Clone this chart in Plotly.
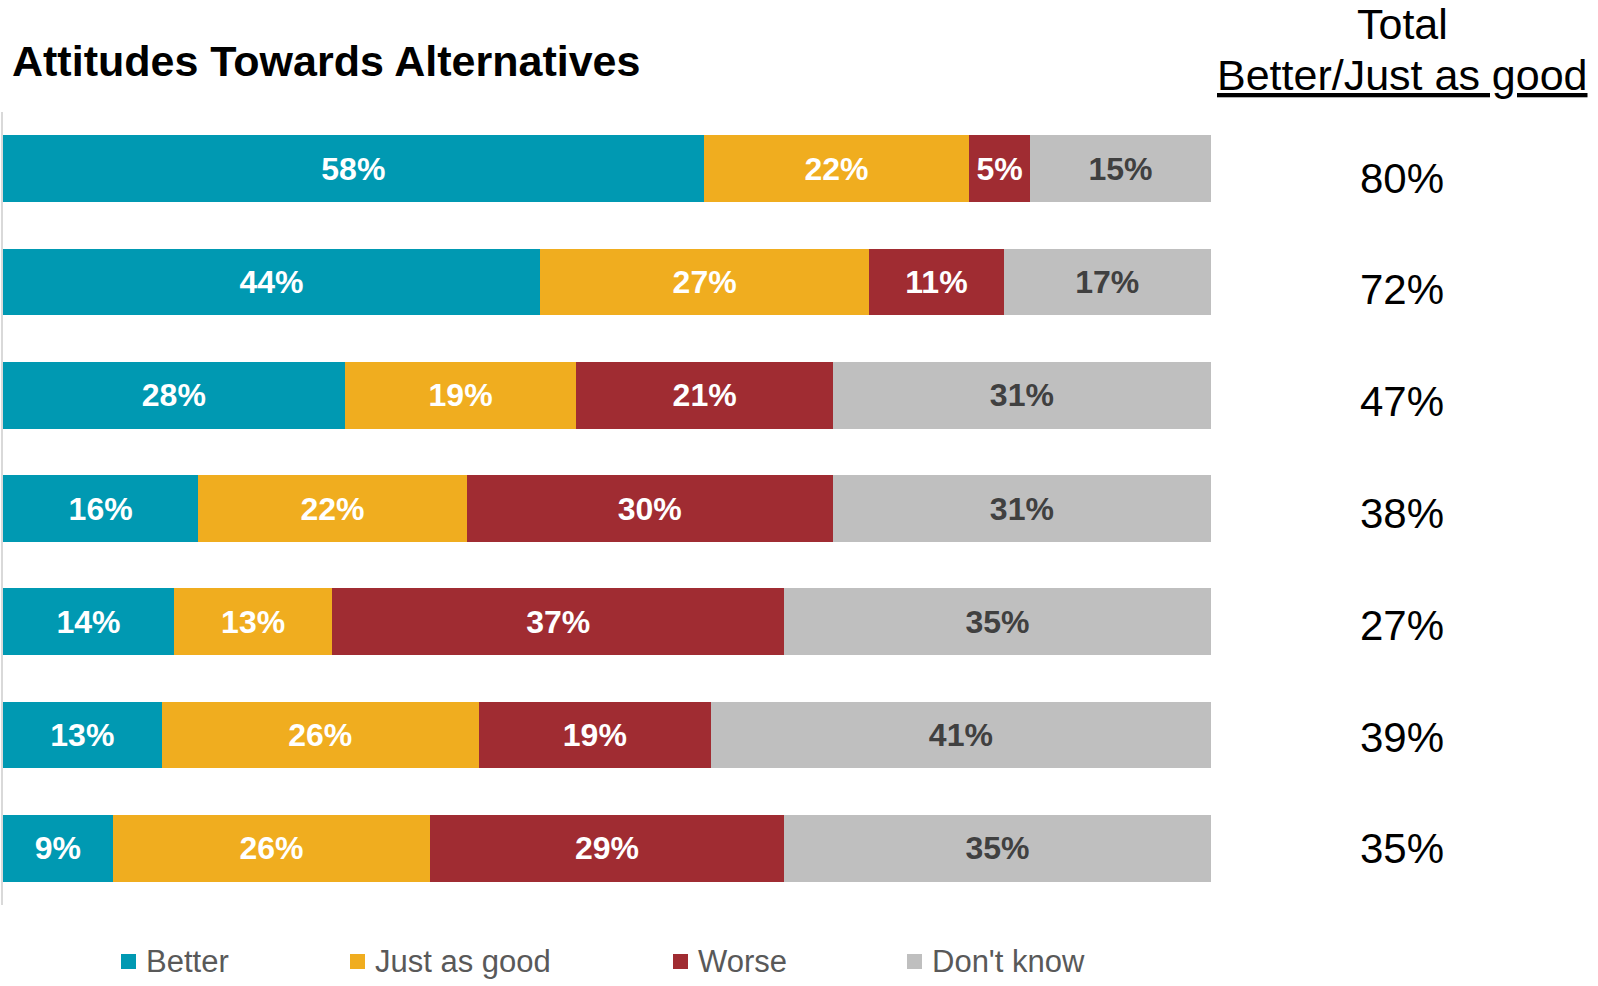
import plotly.graph_objects as go

# Survey rows, top to bottom (row labels are not shown on the chart)
rows = ["Item 1", "Item 2", "Item 3", "Item 4", "Item 5", "Item 6", "Item 7"]

better = [58, 44, 28, 16, 14, 13, 9]
just_as_good = [22, 27, 19, 22, 13, 26, 26]
worse = [5, 11, 21, 30, 37, 19, 29]
dont_know = [15, 17, 31, 31, 35, 41, 35]

# Combined "Better / Just as good" share per row
total_better_good = [80, 72, 47, 38, 27, 39, 35]

series_names = ["Better", "Just as good", "Worse", "Don't know"]
series_values = [better, just_as_good, worse, dont_know]
series_colors = ["#0099B2", "#F0AD1F", "#A02C32", "#BFBFBF"]
label_colors = ["#FFFFFF", "#FFFFFF", "#FFFFFF", "#404040"]

FONT = "Liberation Sans, Arial, Helvetica, sans-serif"

W, H = 1598, 986
PL, PR, PT, PB = 3, 1211, 112, 905  # plot area in pixels


def px_x(x):
    return (x - PL) / (PR - PL)


def px_y(y):
    return (PB - y) / (PB - PT)


fig = go.Figure()
for name, vals, col, tcol in zip(series_names, series_values, series_colors, label_colors):
    fig.add_trace(go.Bar(
        y=rows,
        x=vals,
        name=name,
        orientation="h",
        marker=dict(color=col, line=dict(width=0)),
        text=[f"{v}%" for v in vals],
        textposition="inside",
        insidetextanchor="middle",
        textangle=0,
        textfont=dict(family=FONT, size=32, color=tcol, weight="bold"),
        showlegend=False,
        hoverinfo="skip",
    ))

annotations = []

# Right-hand column: header and totals
annotations.append(dict(
    text="Total", xref="paper", yref="paper", x=px_x(1402), y=px_y(24),
    xanchor="center", yanchor="middle", showarrow=False,
    font=dict(family=FONT, size=43, color="#000000"),
))
annotations.append(dict(
    text='<span style="text-decoration:underline">Better/Just as good</span>',
    xref="paper", yref="paper", x=px_x(1402), y=px_y(75),
    xanchor="center", yanchor="middle", showarrow=False,
    font=dict(family=FONT, size=43, color="#000000"),
))
# Totals column sits on its own slightly tighter row spacing
TOTAL_TOP, TOTAL_STEP = 178, 111.8
for i, t in enumerate(total_better_good):
    annotations.append(dict(
        text=f"{t}%", xref="paper", yref="paper",
        x=px_x(1402), y=px_y(TOTAL_TOP + i * TOTAL_STEP),
        xanchor="center", yanchor="middle", showarrow=False,
        font=dict(family=FONT, size=42, color="#000000"),
    ))

# Legend drawn beneath the bars
shapes = []
legend_marker_x = [121, 350, 673, 907]
for name, col, mx in zip(series_names, series_colors, legend_marker_x):
    shapes.append(dict(
        type="rect", xref="paper", yref="paper",
        x0=px_x(mx), x1=px_x(mx + 15), y0=px_y(969), y1=px_y(954),
        fillcolor=col, line=dict(width=0),
    ))
    annotations.append(dict(
        text=name, xref="paper", yref="paper", x=px_x(mx + 23), y=px_y(961),
        xanchor="left", yanchor="middle", showarrow=False,
        font=dict(family=FONT, size=31, color="#595959"),
    ))

fig.update_layout(
    width=W, height=H,
    margin=dict(l=PL, r=W - PR, t=PT, b=H - PB, pad=0),
    barmode="stack",
    barnorm="percent",
    bargap=0.41,
    plot_bgcolor="#FFFFFF",
    paper_bgcolor="#FFFFFF",
    title=dict(
        text="<b>Attitudes Towards Alternatives</b>",
        xref="container", yref="container",
        x=12 / W, y=1 - 61 / H, xanchor="left", yanchor="middle",
        font=dict(family=FONT, size=43, color="#000000"),
    ),
    xaxis=dict(range=[0, 100], visible=False, fixedrange=True),
    yaxis=dict(
        type="category", categoryorder="array", categoryarray=rows,
        range=[6.5, -0.5], showticklabels=False, ticks="",
        showgrid=False, zeroline=False,
        showline=True, linecolor="#D9D9D9", linewidth=2, fixedrange=True,
    ),
    annotations=annotations,
    shapes=shapes,
    showlegend=False,
)

fig.write_html("out.html")
